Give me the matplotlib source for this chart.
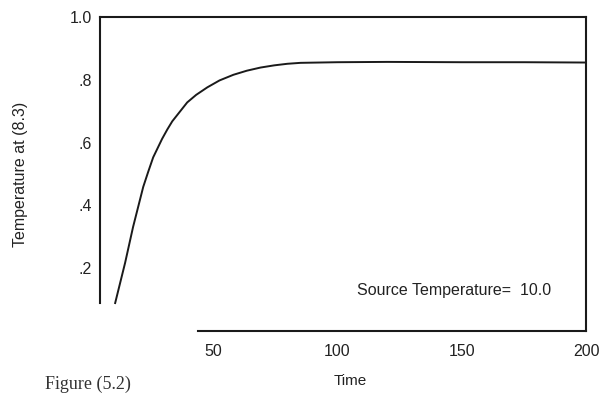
import matplotlib.pyplot as plt

# values
time = [10.5, 14.5, 17.7, 21.8, 23.8, 25.8, 29.4, 31.5, 33.5, 36.7, 39.5, 43.1, 47.6, 52.5, 58.1, 63.5, 69.0, 74.5, 79.8, 85.1, 100, 120, 150, 175, 200]
temp = [0.089, 0.217, 0.331, 0.459, 0.507, 0.553, 0.612, 0.642, 0.668, 0.700, 0.728, 0.752, 0.776, 0.798, 0.816, 0.829, 0.839, 0.846, 0.851, 0.854, 0.856, 0.857, 0.856, 0.856, 0.855]
xticks = [50, 100, 150, 200]
yticks = [0.2, 0.4, 0.6, 0.8, 1.0]
ylabels = ['.2', '.4', '.6', '.8', '1.0']

plt.rcParams['font.family'] = ['Liberation Sans', 'DejaVu Sans']

fig = plt.figure(figsize=(6, 3.94), dpi=100)
ax = fig.add_axes([100 / 600, 63 / 394, 486 / 600, 314 / 394])

ax.plot(time, temp, color='#1a1a1a', lw=1.4)

ax.set_xlim(4.4, 200)
ax.set_ylim(0, 1.0)
ax.set_xticks(xticks)
ax.set_xticklabels([str(t) for t in xticks])
ax.set_yticks(yticks)
ax.set_yticklabels(ylabels)
ax.tick_params(length=0, labelsize=11.5, colors='#222222')
ax.tick_params(axis='x', pad=9)
ax.tick_params(axis='y', pad=6)

for s in ax.spines.values():
    s.set_linewidth(1.5)
    s.set_color('#1a1a1a')
ax.spines['left'].set_bounds(0.09, 1.0)
ax.spines['bottom'].set_bounds(44, 200)

ax.set_ylabel('Temperature at (8.3)', fontsize=11.5, labelpad=30, color='#222222')
fig.text(350 / 600, 1 - 381 / 394, 'Time', fontsize=11, ha='center', va='center', color='#222222')
fig.text(357 / 600, 1 - 290 / 394, 'Source Temperature=  10.0', fontsize=11.5, va='center', color='#222222')
fig.text(45 / 600, 1 / 394, 'Figure (5.2)', fontsize=13, family='Liberation Serif', va='bottom', color='#333333')

fig.savefig('out.png', dpi=100)
